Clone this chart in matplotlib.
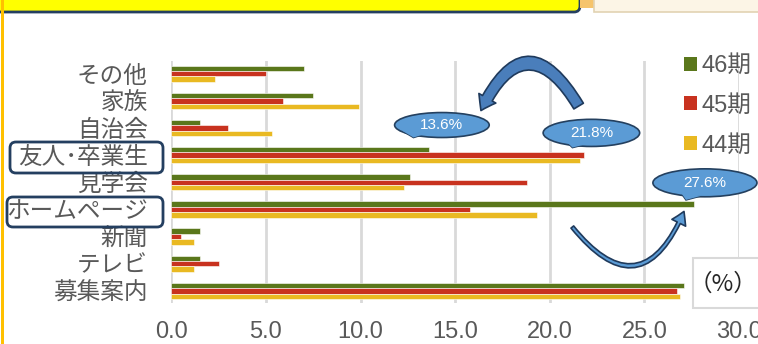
import matplotlib
matplotlib.use("Agg")
import matplotlib.pyplot as plt
import numpy as np
from matplotlib.patches import Ellipse, Polygon, FancyBboxPatch, FancyArrowPatch, Rectangle, Patch
from matplotlib.transforms import IdentityTransform

plt.rcParams['font.family'] = ['Liberation Sans', 'Noto Sans CJK JP', 'DejaVu Sans']
CJK = ['Noto Sans CJK JP', 'DejaVu Sans']

categories = ["その他", "家族", "自治会", "友人･卒業生", "見学会", "ホームページ", "新聞", "テレビ", "募集案内"]
series_names = ["46期", "45期", "44期"]
s46 = [7.0, 7.5, 1.5, 13.6, 12.6, 27.6, 1.5, 1.5, 27.1]
s45 = [5.0, 5.9, 3.0, 21.8, 18.8, 15.8, 0.5, 2.5, 26.7]
s44 = [2.3, 9.9, 5.3, 21.6, 12.3, 19.3, 1.2, 1.2, 26.9]
xticks = [0, 5, 10, 15, 20, 25, 30]
xticklabels = ["0.0", "5.0", "10.0", "15.0", "20.0", "25.0", "30.0"]
callouts = ["13.6%", "21.8%", "27.6%"]
unit_label = "（%）"

colors = ["#5A771B", "#C8321F", "#E9B922"]
gray = "#595959"

W, H = 758, 344
fig = plt.figure(figsize=(W / 100, H / 100), dpi=100)
fig.patch.set_facecolor("white")
ax = fig.add_axes([171.3 / W, 1 - 303 / H, (739 - 171.3) / W, (303 - 61) / H])

y = np.arange(len(categories))
bh = 0.2
for vals, off, c, name in zip([s46, s45, s44], [-bh, 0, bh], colors, series_names):
    ax.barh(y + off, vals, height=bh, color=c, edgecolor="white", linewidth=0.4, zorder=3, label=name)

ax.set_xlim(0, 30)
ax.set_ylim(8.45, -0.47)
ax.set_xticks(xticks)
ax.set_xticklabels(xticklabels, fontsize=17, color=gray)
ax.set_yticks(y)
ax.set_yticklabels(categories, fontsize=17, color=gray, family=CJK)
ax.tick_params(axis="x", length=0, pad=13)
ax.tick_params(axis="y", length=0, pad=17)
for s in ax.spines.values():
    s.set_visible(False)
ax.grid(axis="x", color="#D9D9D9", linewidth=2, zorder=0)
ax.set_axisbelow(True)

# legend
handles = [Patch(facecolor=c, edgecolor="none") for c in colors]
leg = fig.legend(handles, series_names, loc="upper left",
                 bbox_to_anchor=(684 / W, 1 - 55 / H), frameon=False,
                 fontsize=17, labelcolor=gray, handlelength=0.55, handleheight=0.55,
                 handletextpad=0.2, labelspacing=0.75, borderpad=0, borderaxespad=0)

# callouts
def callout(cx, cy, w, h, tip, base, text):
    e = Ellipse((cx, cy), w, h, facecolor="#5B9BD5", edgecolor="#24405F", linewidth=1.2,
                zorder=6, clip_on=False)
    ax.add_patch(e)
    p = Polygon([base[0], tip, base[1]], closed=True, facecolor="#5B9BD5",
                edgecolor="#24405F", linewidth=1.2, zorder=5, clip_on=False)
    ax.add_patch(p)
    p2 = Polygon([base[0], tip, base[1]], closed=True, facecolor="#5B9BD5",
                 edgecolor="none", zorder=7, clip_on=False)
    ax.add_patch(p2)
    ax.text(cx, cy, text, color="white", fontsize=11, ha="center", va="center",
            zorder=8, clip_on=False)

callout(14.3, 1.89, 5.0, 0.92, (12.8, 2.35), [(12.2, 2.1), (13.4, 2.22)], callouts[0])
callout(22.2, 2.18, 5.1, 1.0, (21.2, 2.72), [(20.8, 2.45), (21.9, 2.6)], callouts[1])
callout(28.2, 4.02, 5.5, 1.03, (27.2, 4.65), [(26.9, 4.35), (28.0, 4.5)], callouts[2])

# curved arrows
a1 = FancyArrowPatch((21.6, 1.28), (16.3, 1.45), connectionstyle="arc3,rad=0.95",
                     arrowstyle="simple,head_width=14,head_length=10,tail_width=8",
                     facecolor="#4A7EBB", edgecolor="#1F3A5C", linewidth=1.2,
                     zorder=6, clip_on=False, mutation_scale=1)
ax.add_patch(a1)
a2 = FancyArrowPatch((21.1, 5.57), (27.15, 4.98), connectionstyle="arc3,rad=0.85",
                     arrowstyle="simple,head_width=11,head_length=9,tail_width=2.5",
                     facecolor="#5B9BD5", edgecolor="#1F3A5C", linewidth=1.2,
                     zorder=6, clip_on=False, mutation_scale=1)
ax.add_patch(a2)

# label boxes (pixel coords, y up)
def pxbox(x0, y0top, x1, y1bot, **kw):
    b = FancyBboxPatch((x0, H - y1bot), x1 - x0, y1bot - y0top,
                       boxstyle="round,pad=0,rounding_size=6", transform=IdentityTransform(), **kw)
    fig.add_artist(b)

pxbox(10, 142, 163, 173, facecolor="none", edgecolor="#243F60", linewidth=2)
pxbox(7, 197, 163, 227, facecolor="none", edgecolor="#243F60", linewidth=2)

# title box (cut off at top)
pxbox(-10, -30, 580, 12, facecolor="#FFFF00", edgecolor="#243F60", linewidth=2)
# right top box
fig.add_artist(Rectangle((580, H - 8), 15, 10, transform=IdentityTransform(),
                         facecolor="#F6C46C", edgecolor="none"))
fig.add_artist(Rectangle((594, H - 12), 170, 14, transform=IdentityTransform(),
                         facecolor="#FCF5E6", edgecolor="#E2D3B3", linewidth=1.2))
# left orange border
fig.add_artist(Rectangle((1, 0), 2.5, H, transform=IdentityTransform(),
                         facecolor="#FFC000", edgecolor="none"))

# unit box
fig.add_artist(Rectangle((693, H - 308), 70, 50, transform=IdentityTransform(),
                         facecolor="white", edgecolor="#D9D9D9", linewidth=1.5, zorder=4))
fig.text(723 / W, 1 - 284 / H, unit_label, fontsize=17, color="#262626",
         ha="center", va="center", zorder=5, family=CJK)

fig.savefig("out.png", dpi=100)
